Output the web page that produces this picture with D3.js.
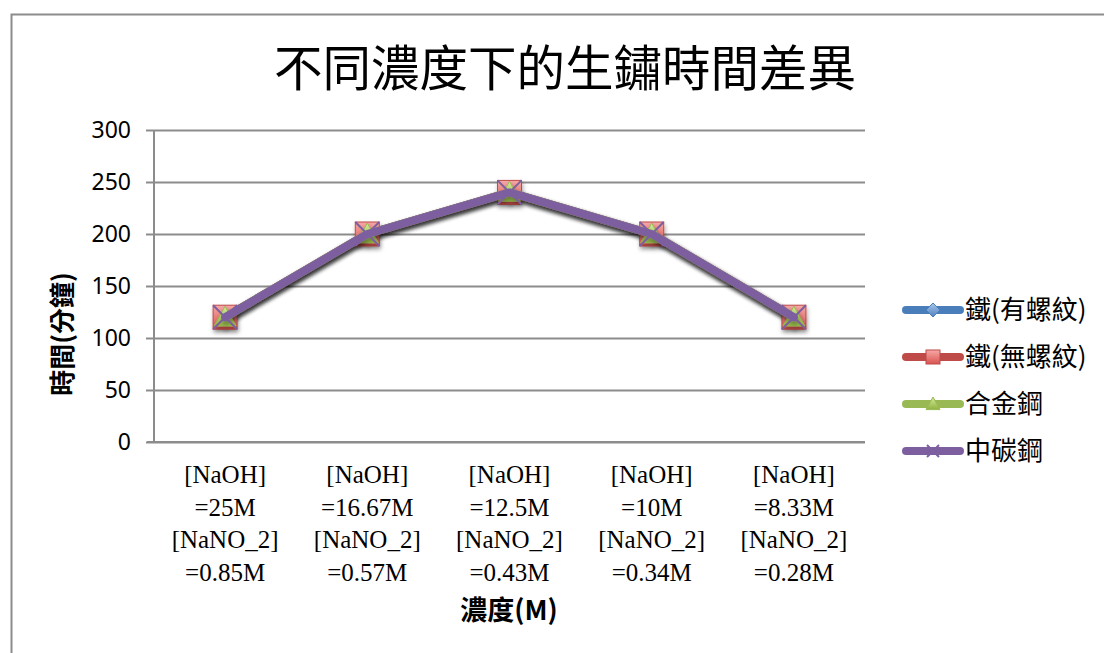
<!DOCTYPE html>
<html>
<head>
<meta charset="utf-8">
<script src="https://cdn.jsdelivr.net/npm/d3@7"></script>
<style>
  body { margin: 0; background: #fff; }
  svg { display: block; }
</style>
</head>
<body>
<svg></svg>
<script>
const width = 1104;
const height = 653;

// ================================
// Data
// ================================
const categories = [
  ['[NaOH]', '=25M', '[NaNO_2]', '=0.85M'],
  ['[NaOH]', '=16.67M', '[NaNO_2]', '=0.57M'],
  ['[NaOH]', '=12.5M', '[NaNO_2]', '=0.43M'],
  ['[NaOH]', '=10M', '[NaNO_2]', '=0.34M'],
  ['[NaOH]', '=8.33M', '[NaNO_2]', '=0.28M']
];
const ironThread = [120, 200, 240, 200, 120];
const ironPlain = [120, 200, 240, 200, 120];
const alloySteel = [120, 200, 240, 200, 120];
const carbonSteel = [120, 200, 240, 200, 120];
const seriesNames = ['鐵(有螺紋)', '鐵(無螺紋)', '合金鋼', '中碳鋼'];
const yTicks = [0, 50, 100, 150, 200, 250, 300];

const series = [
  { name: seriesNames[0], values: ironThread, color: '#4a7ebb', marker: 'diamond' },
  { name: seriesNames[1], values: ironPlain, color: '#be4b48', marker: 'square' },
  { name: seriesNames[2], values: alloySteel, color: '#98b954', marker: 'triangle' },
  { name: seriesNames[3], values: carbonSteel, color: '#7d5fa0', marker: 'cross' }
];

// ================================
// Setup
// ================================
const svg = d3.select('svg')
  .attr('width', width)
  .attr('height', height);

const defs = svg.append('defs');
const grads = [
  ['g-diamond', '#a9c6ee', '#4f81bd'],
  ['g-square', '#f6a9a7', '#d9534f'],
  ['g-triangle', '#d4eb9c', '#8fb340']
];
grads.forEach(([id, c1, c2]) => {
  const g = defs.append('linearGradient').attr('id', id)
    .attr('x1', 0).attr('y1', 0).attr('x2', 0).attr('y2', 1);
  g.append('stop').attr('offset', '0%').attr('stop-color', c1);
  g.append('stop').attr('offset', '100%').attr('stop-color', c2);
});
const shadow = defs.append('filter').attr('id', 'shadow')
  .attr('x', '-50%').attr('y', '-50%').attr('width', '200%').attr('height', '200%');
shadow.append('feDropShadow').attr('dx', 1).attr('dy', 3).attr('stdDeviation', 2)
  .attr('flood-color', '#000').attr('flood-opacity', 0.35);

// chart border
svg.append('rect')
  .attr('x', 11.5).attr('y', 14.5)
  .attr('width', 1200).attr('height', 800)
  .attr('fill', 'none').attr('stroke', '#8c8c8c').attr('stroke-width', 2);

const plot = { left: 154, right: 865, top: 130, bottom: 442 };

const x = d3.scaleBand()
  .domain(d3.range(categories.length))
  .range([plot.left, plot.right]);

const y = d3.scaleLinear()
  .domain([0, 300])
  .range([plot.bottom, plot.top]);

// ================================
// Gridlines and axes
// ================================
svg.append('g')
  .attr('transform', `translate(${plot.left},0)`)
  .call(d3.axisLeft(y).tickValues(yTicks).tickSize(-(plot.right - plot.left)).tickFormat(''))
  .call(g => g.select('.domain').remove())
  .call(g => g.selectAll('line').attr('stroke', '#8c8c8c').attr('stroke-width', 2));

// y tick marks + labels
const yAxis = svg.append('g')
  .attr('transform', `translate(${plot.left},0)`)
  .call(d3.axisLeft(y).tickValues(yTicks).tickSize(8).tickPadding(15))
  .call(g => g.select('.domain').remove());
yAxis.selectAll('line').attr('stroke', '#8c8c8c').attr('stroke-width', 2);
yAxis.selectAll('text')
  .attr('fill', '#000')
  .style('font-family', '"Noto Sans", "DejaVu Sans", sans-serif')
  .style('font-size', '23px');

svg.append('line')
  .attr('x1', plot.left).attr('x2', plot.left)
  .attr('y1', plot.top).attr('y2', plot.bottom)
  .attr('stroke', '#8c8c8c').attr('stroke-width', 2);
svg.append('line')
  .attr('x1', plot.left - 7).attr('x2', plot.right)
  .attr('y1', plot.bottom).attr('y2', plot.bottom)
  .attr('stroke', '#8c8c8c').attr('stroke-width', 2);

// x labels
const xLabels = svg.append('g');
categories.forEach((lines, i) => {
  const t = xLabels.append('text')
    .attr('x', x(i) + x.bandwidth() / 2)
    .attr('y', 483)
    .attr('text-anchor', 'middle')
    .style('font-family', '"Liberation Serif", "DejaVu Serif", serif')
    .style('font-size', '25px');
  lines.forEach((l, j) => {
    t.append('tspan')
      .attr('x', x(i) + x.bandwidth() / 2)
      .attr('y', 483 + j * 32.5)
      .text(l);
  });
});

// ================================
// Titles
// ================================
svg.append('text')
  .attr('x', 565).attr('y', 86)
  .attr('text-anchor', 'middle')
  .style('font-family', '"Noto Sans CJK TC", sans-serif')
  .style('font-size', '48.5px')
  .text('不同濃度下的生鏽時間差異');

svg.append('text')
  .attr('transform', 'translate(72,334) rotate(-90)')
  .attr('text-anchor', 'middle')
  .style('font-family', '"Noto Sans CJK TC", sans-serif')
  .style('font-weight', 'bold')
  .style('font-size', '26px')
  .text('時間(分鐘)');

svg.append('text')
  .attr('x', 509).attr('y', 620)
  .attr('text-anchor', 'middle')
  .style('font-family', '"Noto Sans CJK TC", sans-serif')
  .style('font-weight', 'bold')
  .style('font-size', '27px')
  .text('濃度(M)');

// ================================
// Markers
// ================================
function drawMarker(g, type, color, cx, cy, s) {
  if (type === 'diamond') {
    g.append('path')
      .attr('d', `M${cx},${cy - s}L${cx + s},${cy}L${cx},${cy + s}L${cx - s},${cy}Z`)
      .attr('fill', 'url(#g-diamond)').attr('stroke', color).attr('stroke-width', 1);
  } else if (type === 'square') {
    g.append('rect')
      .attr('x', cx - s).attr('y', cy - s).attr('width', 2 * s).attr('height', 2 * s)
      .attr('fill', 'url(#g-square)').attr('stroke', color).attr('stroke-width', 1);
  } else if (type === 'triangle') {
    g.append('path')
      .attr('d', `M${cx},${cy - s}L${cx + s},${cy + s * 0.8}L${cx - s},${cy + s * 0.8}Z`)
      .attr('fill', 'url(#g-triangle)').attr('stroke', color).attr('stroke-width', 1);
  } else {
    g.append('path')
      .attr('d', `M${cx - s},${cy - s}L${cx + s},${cy + s}M${cx - s},${cy + s}L${cx + s},${cy - s}`)
      .attr('fill', 'none').attr('stroke', color).attr('stroke-width', 2);
  }
}

const line = d3.line()
  .x((d, i) => x(i) + x.bandwidth() / 2)
  .y(d => y(d));

const sizes = { diamond: 11, square: 12, triangle: 11, cross: 12 };

series.forEach(s => {
  const g = svg.append('g');
  g.append('path')
    .datum(s.values)
    .attr('d', line)
    .attr('fill', 'none')
    .attr('stroke', s.color)
    .attr('stroke-width', 8)
    .attr('stroke-linejoin', 'round')
    .attr('stroke-linecap', 'round')
    .attr('filter', 'url(#shadow)');
  s.values.forEach((v, i) => {
    const mg = g.append('g').attr('filter', s.marker === 'cross' ? null : 'url(#shadow)');
    drawMarker(mg, s.marker, s.color, x(i) + x.bandwidth() / 2, y(v), sizes[s.marker]);
  });
});

// ================================
// Legend
// ================================
const legend = svg.append('g');
series.forEach((s, i) => {
  const ly = 310 + i * 47;
  const row = legend.append('g');
  row.append('line')
    .attr('x1', 906).attr('x2', 960)
    .attr('y1', ly).attr('y2', ly)
    .attr('stroke', s.color).attr('stroke-width', 8)
    .attr('stroke-linecap', 'round');
  drawMarker(row, s.marker, s.color, 933, ly, s.marker === 'cross' ? 6 : 7);
  row.append('text')
    .attr('x', 965).attr('y', ly + 9)
    .style('font-family', '"Noto Sans CJK TC", sans-serif')
    .style('font-size', '26px')
    .text(s.name);
});
</script>
</body>
</html>
